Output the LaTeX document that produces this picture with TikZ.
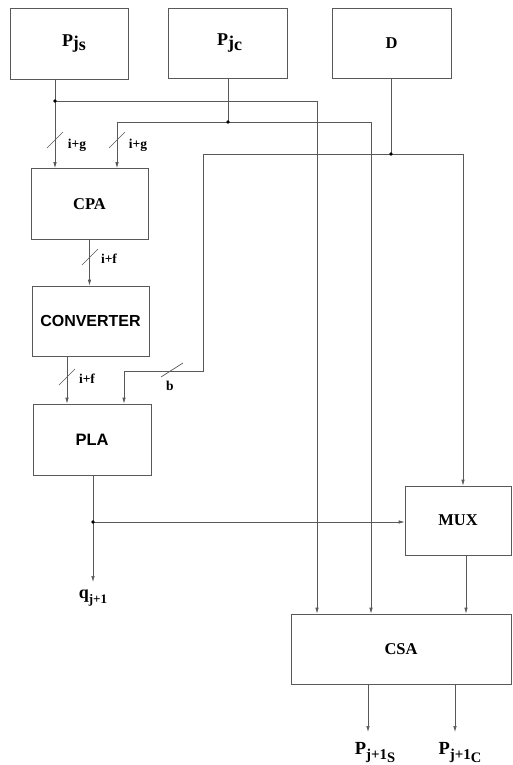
\documentclass[tikz,border=0pt]{standalone}
\usepackage{fontspec}
\setmainfont{Liberation Serif}
\newfontfamily\hvsans{Liberation Sans}
\usetikzlibrary{arrows.meta}
\definecolor{ln}{gray}{0.35}
\newcommand{\bigfont}{\fontsize{16.5}{18}\selectfont\bfseries}
\newcommand{\smallfont}{\fontsize{13.5}{15}\selectfont\bfseries}
\newcommand{\Ptop}[1]{{\fontsize{18}{19}\selectfont P\raisebox{-2.5pt}{j}\raisebox{-4.5pt}{#1}}}
\newcommand{\Pbot}[1]{{\fontsize{18.5}{20}\selectfont P}\raisebox{-5pt}{\fontsize{15}{16}\selectfont j+1\raisebox{-3pt}{\fontsize{14.5}{16}\selectfont #1}}}
\begin{document}
\begin{tikzpicture}[x=1pt,y=-1pt]
\tikzset{
  blk/.style={draw=ln, line width=0.7pt, inner sep=0pt, font=\bigfont},
  wire/.style={draw=ln, line width=0.7pt},
  arr/.style={wire, -{Latex[length=6pt,width=3.5pt]}},
  lab/.style={inner sep=0pt, font=\smallfont},
  outlab/.style={inner sep=0pt, font=\bfseries}
}
\useasboundingbox[fill=white] (0,0) rectangle (512,765);

% blocks
\node[blk, minimum width=118pt, minimum height=71pt] (Pjs) at (69,43.5) {\hspace{10pt}\Ptop{s}};
\node[blk, minimum width=119pt, minimum height=70pt] (Pjc) at (227.5,43) {\hspace{4pt}\Ptop{c}};
\node[blk, minimum width=119pt, minimum height=70pt] (D) at (391.5,43) {D};
\node[blk, minimum width=117pt, minimum height=71pt] (CPA) at (89.5,204) {CPA};
\node[blk, minimum width=117pt, minimum height=70pt, font={\fontsize{16}{18}\selectfont\hvsans\bfseries}] (CONV) at (90.5,321) {CONVERTER};
\node[blk, minimum width=118pt, minimum height=71pt, font={\fontsize{16.5}{18}\selectfont\hvsans\bfseries}] (PLA) at (92,439.5) {PLA};
\node[blk, minimum width=106pt, minimum height=69pt] (MUX) at (458,520.5) {MUX};
\node[blk, minimum width=220pt, minimum height=70pt] (CSA) at (401,649) {CSA};

% output labels
\node[outlab, font={\fontsize{18}{19}\selectfont\bfseries}] (q) at (93,598) {q\raisebox{-5pt}{\fontsize{13}{14}\selectfont j+1}};
\node[outlab] (Ps) at (375,753) {\Pbot{S}};
\node[outlab] (Pc) at (460,753) {\Pbot{C}};

% junctions and routing points
\coordinate (jS) at (55,101);
\coordinate (jC) at (228,122);
\coordinate (jD) at (391,154);
\coordinate (jP) at (93,522);
\coordinate (xS) at (317,0);
\coordinate (xC1) at (117,0);
\coordinate (xC2) at (371,0);
\coordinate (xD) at (463,0);
\coordinate (dA) at (203,154);
\coordinate (dB) at (203,371);
\coordinate (dC) at (124,371);
\coordinate (xCv) at (67,0);
\coordinate (xM) at (466,0);
\coordinate (qEnd) at (93,582);
\coordinate (oS) at (368,732);
\coordinate (oC) at (455,732);

% wires
\draw[arr] (Pjs.south -| jS) -- (CPA.north -| jS);
\draw[arr] (jS) -| (xS |- CSA.north);
\draw[wire] (Pjc.south -| jC) -- (jC);
\draw[arr] (jC) -| (xC1 |- CPA.north);
\draw[arr] (jC) -| (xC2 |- CSA.north);
\draw[wire] (D.south -| jD) -- (jD);
\draw[arr] (jD) -| (xD |- MUX.north);
\draw[arr] (jD) -- (dA) -- (dB) -- (dC) -- (dC |- PLA.north);
\draw[arr] (CPA.south) -- (CPA.south |- CONV.north);
\draw[arr] (CONV.south -| xCv) -- (PLA.north -| xCv);
\draw[arr] (PLA.south -| jP) -- (qEnd);
\draw[arr] (jP) -- (jP -| MUX.west);
\draw[arr] (MUX.south -| xM) -- (CSA.north -| xM);
\draw[arr] (CSA.south -| oS) -- (oS);
\draw[arr] (CSA.south -| oC) -- (oC);

% junction dots
\foreach \p in {jS,jC,jD,jP} \fill (\p) circle (1.8);

% bus slashes
\coordinate (s1) at (55,140);
\coordinate (s2) at (117,140);
\coordinate (s3) at (90,257);
\coordinate (s4) at (67,377);
\coordinate (s5) at (172,370);
\draw[wire] (s1) ++(-8,8) -- ++(16,-16);
\draw[wire] (s2) ++(-8,8) -- ++(16,-16);
\draw[wire] (s3) ++(-8,8) -- ++(16,-16);
\draw[wire] (s4) ++(-8,8) -- ++(16,-16);
\draw[wire] (s5) ++(-11,7) -- ++(22,-14);

% bus labels
\node[lab] (l1) at (77,145) {i+g};
\node[lab] (l2) at (138,145) {i+g};
\node[lab] (l3) at (109,259) {i+f};
\node[lab] (l4) at (87,379) {i+f};
\node[lab] (l5) at (170,386) {b};
\end{tikzpicture}
\end{document}
